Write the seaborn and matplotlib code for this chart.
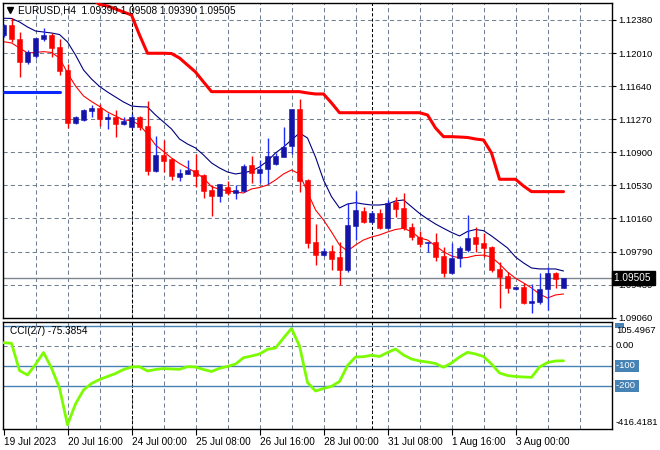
import numpy as np
import pandas as pd
import matplotlib
matplotlib.use("Agg")
import matplotlib.pyplot as plt
import matplotlib.transforms as mtransforms
from matplotlib.lines import Line2D
from matplotlib.patches import Rectangle
import seaborn as sns

# -------------------------------------------------------------------------
# Data (EURUSD H4)
# -------------------------------------------------------------------------
OPEN = [1.12213, 1.12324, 1.12168, 1.11912, 1.11973, 1.12168, 1.12218, 1.12079,
        1.11823, 1.11235, 1.11265, 1.11369, 1.11404, 1.11274, 1.11293, 1.11220,
        1.11190, 1.11298, 1.11198, 1.10700, 1.10875, 1.10827, 1.10633, 1.10666,
        1.10708, 1.10652, 1.10485, 1.10418, 1.10515, 1.10448, 1.10477, 1.10763,
        1.10677, 1.10715, 1.10771, 1.10856, 1.10970, 1.11388, 1.10593, 1.09901,
        1.09765, 1.09801, 1.09741, 1.09593, 1.10086, 1.10250, 1.10122, 1.10228,
        1.10055, 1.10351, 1.10280, 1.10069, 1.09955, 1.09890, 1.09908, 1.09749,
        1.09562, 1.09723, 1.09816, 1.09957, 1.09890, 1.09852, 1.09600, 1.09526,
        1.09377, 1.09406, 1.09228, 1.09239, 1.09377, 1.09556, 1.09390]
HIGH = [1.12335, 1.12399, 1.12243, 1.12040, 1.12183, 1.12287, 1.12237, 1.12165,
        1.11889, 1.11310, 1.11391, 1.11427, 1.11443, 1.11340, 1.11380, 1.11295,
        1.11329, 1.11310, 1.11477, 1.11087, 1.11042, 1.10838, 1.10715, 1.10819,
        1.10886, 1.10663, 1.10540, 1.10555, 1.10588, 1.10540, 1.10774, 1.10864,
        1.10819, 1.11061, 1.10900, 1.11190, 1.11393, 1.11496, 1.10607, 1.10103,
        1.09834, 1.09871, 1.09905, 1.10340, 1.10477, 1.10292, 1.10245, 1.10267,
        1.10370, 1.10406, 1.10451, 1.10120, 1.10031, 1.09908, 1.10008, 1.09852,
        1.09897, 1.09860, 1.10206, 1.10069, 1.10008, 1.09860, 1.09685, 1.09574,
        1.09406, 1.09444, 1.09436, 1.09562, 1.09629, 1.09570, 1.09508]
LOW = [1.12190, 1.12135, 1.11739, 1.11889, 1.11953, 1.12146, 1.11971, 1.11772,
       1.11181, 1.11215, 1.11254, 1.11302, 1.11198, 1.11168, 1.11070, 1.11209,
       1.11172, 1.11154, 1.10652, 1.10682, 1.10682, 1.10596, 1.10588, 1.10663,
       1.10521, 1.10392, 1.10195, 1.10354, 1.10429, 1.10381, 1.10466, 1.10566,
       1.10559, 1.10551, 1.10763, 1.10849, 1.10886, 1.10466, 1.09834, 1.09652,
       1.09752, 1.09593, 1.09429, 1.09574, 1.09927, 1.10113, 1.10111, 1.10050,
       1.10044, 1.10187, 1.10038, 1.09927, 1.09849, 1.09797, 1.09696, 1.09518,
       1.09548, 1.09623, 1.09797, 1.09797, 1.09741, 1.09574, 1.09172, 1.09339,
       1.09370, 1.09213, 1.09116, 1.09213, 1.09147, 1.09388, 1.09390]
CLOSE = [1.12324, 1.12163, 1.11912, 1.12020, 1.12179, 1.12213, 1.12071, 1.11815,
         1.11235, 1.11298, 1.11380, 1.11404, 1.11276, 1.11293, 1.11220, 1.11256,
         1.11298, 1.11187, 1.10700, 1.10875, 1.10808, 1.10641, 1.10671, 1.10708,
         1.10641, 1.10477, 1.10418, 1.10551, 1.10454, 1.10485, 1.10752, 1.10677,
         1.10719, 1.10864, 1.10864, 1.10967, 1.11388, 1.10588, 1.09897, 1.09763,
         1.09802, 1.09717, 1.09593, 1.10094, 1.10262, 1.10128, 1.10228, 1.10055,
         1.10340, 1.10273, 1.10061, 1.09964, 1.09882, 1.09908, 1.09741, 1.09562,
         1.09723, 1.09834, 1.09953, 1.09882, 1.09841, 1.09593, 1.09511, 1.09388,
         1.09406, 1.09228, 1.09247, 1.09377, 1.09556, 1.09489, 1.09505]

MA_SLOW = [1.12399, 1.12397, 1.12358, 1.12302, 1.12257, 1.12246, 1.12235, 1.12218,
           1.12135, 1.11990, 1.11823, 1.11722, 1.11639, 1.11577, 1.11521, 1.11466,
           1.11421, 1.11413, 1.11410, 1.11321, 1.11243, 1.11165, 1.11053, 1.10997,
           1.10953, 1.10875, 1.10786, 1.10730, 1.10685, 1.10663, 1.10677, 1.10696,
           1.10741, 1.10808, 1.10897, 1.10964, 1.11042, 1.11120, 1.11064, 1.10852,
           1.10596, 1.10410, 1.10284, 1.10328, 1.10343, 1.10328, 1.10317, 1.10317,
           1.10328, 1.10362, 1.10373, 1.10298, 1.10223, 1.10161, 1.10105, 1.10057,
           1.10011, 1.09972, 1.10022, 1.10044, 1.10031, 1.09972, 1.09905, 1.09838,
           1.09737, 1.09671, 1.09615, 1.09604, 1.09604, 1.09604, 1.09581]
MA_FAST = [1.12138, 1.12124, 1.12068, 1.12012, 1.12018, 1.12027, 1.12018, 1.11956,
           1.11789, 1.11644, 1.11533, 1.11471, 1.11416, 1.11354, 1.11310, 1.11265,
           1.11259, 1.11209, 1.11109, 1.10986, 1.10914, 1.10841, 1.10780, 1.10730,
           1.10680, 1.10618, 1.10521, 1.10492, 1.10476, 1.10462, 1.10451, 1.10496,
           1.10512, 1.10540, 1.10596, 1.10663, 1.10708, 1.10663, 1.10462, 1.10262,
           1.10150, 1.10016, 1.09871, 1.09804, 1.09871, 1.09927, 1.09960, 1.09983,
           1.10016, 1.10044, 1.10057, 1.10020, 1.09949, 1.09927, 1.09860, 1.09797,
           1.09749, 1.09726, 1.09732, 1.09754, 1.09758, 1.09737, 1.09659, 1.09570,
           1.09500, 1.09448, 1.09392, 1.09325, 1.09280, 1.09314, 1.09325]

# thick red trailing line, starts at bar 11
STOP_START = 11
STOP = [1.12620, 1.12553, 1.12536, 1.12503, 1.12469, 1.12436, 1.12213, 1.12009,
        1.12009, 1.12009, 1.12006, 1.11956, 1.11878, 1.11800, 1.11689, 1.11581,
        1.11581, 1.11581, 1.11581, 1.11581, 1.11581, 1.11581, 1.11581, 1.11581,
        1.11581, 1.11581, 1.11581, 1.11566, 1.11555, 1.11555, 1.11455, 1.11346,
        1.11346, 1.11346, 1.11346, 1.11346, 1.11346, 1.11346, 1.11346, 1.11346,
        1.11346, 1.11346, 1.11321, 1.11176, 1.11079, 1.11079, 1.11075, 1.11070,
        1.11053, 1.11042, 1.10897, 1.10604, 1.10604, 1.10604, 1.10529, 1.10466,
        1.10466, 1.10466, 1.10466, 1.10466]
# short blue level at the start of the chart (bars 0..7)
SUPPORT = [1.11581] * 8

CCI = [15, 12, -124, -146.5, -94, -34, -111.5, -211.5, -395, -291.5, -221.5,
       -189, -169, -154, -139, -119, -106.5, -105, -126.5, -119, -114, -116.5,
       -118, -105, -106.5, -119, -129, -113, -104, -91.5, -60, -51.5, -41.5,
       -18, -11.5, 38.5, 86, -1.5, -184, -226.5, -214, -203, -179, -99, -56.5,
       -55, -47.5, -54, -34, -16.5, -46.5, -66.5, -76.5, -81.5, -89, -108,
       -86.5, -56.5, -33, -41.5, -54, -91.5, -136.5, -149, -154, -156.5, -158,
       -106.5, -84, -76.5, -75.3854]
CCI_LEVELS = [100, -100, -200]

PRICE_TICKS = ["1.12380", "1.12010", "1.11640", "1.11270", "1.10900",
               "1.10530", "1.10160", "1.09790", "1.09430", "1.09060"]
DATE_LABELS = ["19 Jul 2023", "20 Jul 16:00", "24 Jul 00:00", "25 Jul 08:00",
               "26 Jul 16:00", "28 Jul 00:00", "31 Jul 08:00", "1 Aug 16:00",
               "3 Aug 00:00"]
WEEK_STARTS = [16, 46]
LAST_PRICE = 1.09505
TITLE = "EURUSD,H4  1.09390 1.09508 1.09390 1.09505"

# -------------------------------------------------------------------------
# Style
# -------------------------------------------------------------------------
sns.set_style("white")
plt.rcParams["font.family"] = ["Liberation Sans", "DejaVu Sans"]
FS = 6.8
GRID = "#708090"
LEVEL = "#4682b4"
BULL_BODY = "#1414a8"
BULL_WICK = "#1e2cff"
BEAR = "#ff0000"

W, H = 660, 450
fig = plt.figure(figsize=(W / 100, H / 100), dpi=100)
ax = fig.add_axes([2.5 / W, 1 - 318 / H, 609.5 / W, 315.5 / H])
axc = fig.add_axes([2.5 / W, 1 - 429 / H, 609.5 / W, 107.5 / H])

n = len(CLOSE)
idx = np.arange(n)
df = pd.DataFrame({"bar": idx, "open": OPEN, "high": HIGH, "low": LOW,
                   "close": CLOSE, "ma_slow": MA_SLOW, "ma_fast": MA_FAST,
                   "cci": CCI})
xlim = (-0.125, 76.06)

for a in (ax, axc):
    a.set_xlim(*xlim)
    for s in a.spines.values():
        s.set_color("black")
        s.set_linewidth(1)
    for b in range(4, 76, 4):
        a.axvline(b, color=GRID, lw=0.75, ls=(0, (4, 3)), zorder=0)
    for b in WEEK_STARTS:
        a.axvline(b, color="black", lw=0.75, ls=(0, (3, 2)), zorder=0.5)

# ---- price panel --------------------------------------------------------
ax.set_ylim(1.09057, 1.12575)
tick_vals = np.linspace(float(PRICE_TICKS[0]), float(PRICE_TICKS[-1]), len(PRICE_TICKS))
for v in tick_vals:
    ax.axhline(v, color=GRID, lw=0.75, ls=(0, (4, 3)), zorder=0)
ax.axhline(LAST_PRICE, color="#7d8791", lw=1, zorder=0.6)

sns.lineplot(data=df, x="bar", y="ma_slow", ax=ax, color="#000080", lw=0.8, zorder=2)
sns.lineplot(data=df, x="bar", y="ma_fast", ax=ax, color="#ff0000", lw=0.8, zorder=2)

bull = df["close"] >= df["open"]
wick_cols = np.where(bull, BULL_WICK, BEAR)
ax.vlines(df["bar"], df["low"], df["high"], colors=wick_cols, lw=1, zorder=3)
body_lo = np.minimum(df["open"], df["close"])
body_h = np.maximum(np.abs(df["close"] - df["open"]), 0.00006)
body_cols = np.where(bull, BULL_BODY, BEAR)
ax.bar(df["bar"], body_h, bottom=body_lo, width=0.62, color=body_cols,
       edgecolor=body_cols, lw=0.4, zorder=4)

stop_df = pd.DataFrame({"bar": np.arange(STOP_START, STOP_START + len(STOP)), "stop": STOP})
sns.lineplot(data=stop_df, x="bar", y="stop", ax=ax, color="#ff0000", lw=2.2, zorder=5)
sup_df = pd.DataFrame({"bar": np.arange(len(SUPPORT)), "level": SUPPORT})
sns.lineplot(data=sup_df, x="bar", y="level", ax=ax, color="#0a28ff", lw=2.2, zorder=5)

ax.yaxis.tick_right()
ax.set_yticks(tick_vals)
ax.set_yticklabels(PRICE_TICKS)
ax.tick_params(axis="y", direction="out", length=3, width=0.8, pad=1.5,
               labelsize=FS, colors="black")
ax.set_xticks([])
ax.set_xlabel("")
ax.set_ylabel("")

blend = mtransforms.blended_transform_factory(ax.transAxes, ax.transData)
ax.text(1 + 1.5 / 609.5, LAST_PRICE, "1.09505 ", transform=blend, ha="left",
        va="center", color="white", fontsize=FS + 0.4,
        bbox=dict(boxstyle="square,pad=0.2", fc="black", ec="black"), zorder=10,
        clip_on=False)

fig.text(18 / W, 1 - 10.5 / H, TITLE, ha="left", va="center", fontsize=FS + 0.4,
         color="black")
fig.add_artist(Line2D([9.5 / W], [1 - 10 / H], marker="v", markersize=4.5,
                      color="black", transform=fig.transFigure))

# ---- CCI panel ----------------------------------------------------------
axc.set_ylim(-416.4181, 121)
axc.axhline(0, color=GRID, lw=0.75, ls=(0, (4, 3)), zorder=0)
for lv in CCI_LEVELS:
    axc.axhline(lv, color=LEVEL, lw=1, zorder=1)
sns.lineplot(data=df, x="bar", y="cci", ax=axc, color="#7cfc00", lw=2, zorder=3)

axc.set_yticks([])
axc.set_ylabel("")
axc.set_xlabel("")
axc.set_xticks(range(0, 8 * len(DATE_LABELS), 8))
axc.set_xticklabels(DATE_LABELS)
for lbl in axc.get_xticklabels():
    lbl.set_ha("left")
axc.tick_params(axis="x", direction="out", length=4, width=0.8, pad=2,
                labelsize=FS + 0.4, colors="black", bottom=True)

cb = mtransforms.blended_transform_factory(axc.transAxes, axc.transData)
xr = 1 + 4 / 609.5
# the +100 level tag is mostly hidden behind the window maximum label
axc.add_patch(Rectangle((1 + 3 / 609.5, 88), 9 / 609.5, 26, transform=cb,
                        fc=LEVEL, ec="none", clip_on=False))
axc.text(xr, 76, "105.4967", transform=cb, ha="left", va="center",
         fontsize=FS, color="black", clip_on=False)
axc.text(xr, 0, "0.00", transform=cb, ha="left", va="center", fontsize=FS,
         color="black", clip_on=False)
for lv in (-100, -200):
    axc.text(xr, lv, f"{lv} ", transform=cb, ha="left", va="center", color="white",
             fontsize=FS, bbox=dict(boxstyle="square,pad=0.15", fc=LEVEL, ec="none"),
             clip_on=False)
axc.text(xr, -383, "-416.4181", transform=cb, ha="left", va="center",
         fontsize=FS, color="black", clip_on=False)
axc.text(7 / 609.5, 1 - 10 / 107.5, f"CCI(27) {CCI[-1]:.4f}", transform=axc.transAxes,
         ha="left", va="center", fontsize=FS + 0.4, color="black")

fig.savefig("out.png", dpi=100, facecolor="white")
